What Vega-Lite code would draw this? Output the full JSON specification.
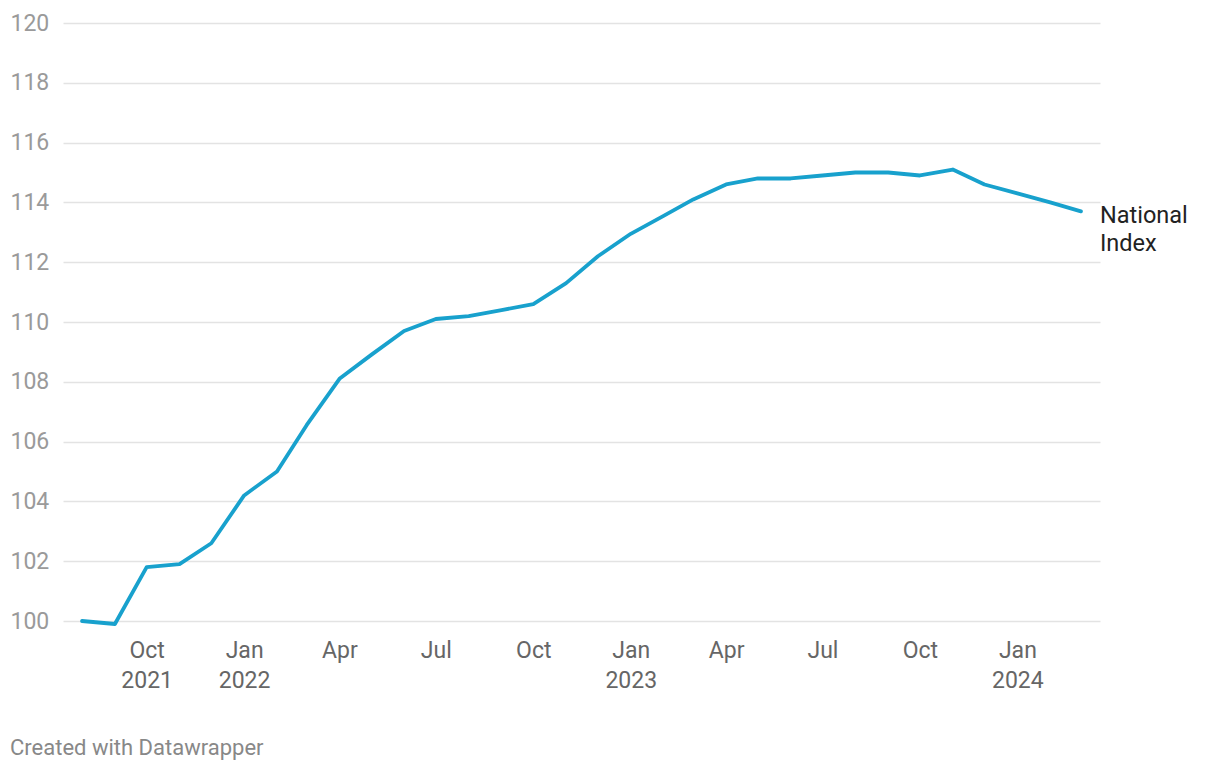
{
  "$schema": "https://vega.github.io/schema/vega-lite/v6.json",
  "width": 1037,
  "height": 598,
  "autosize": {"type": "none"},
  "padding": {"left": 63, "top": 23, "right": 120, "bottom": 149},
  "background": "#ffffff",
  "config": {
    "font": "Roboto",
    "view": {"stroke": null},
    "axis": {"domain": false, "ticks": false, "tickSize": 0, "title": null, "labelFont": "Roboto", "labelFontSize": 23}
  },
  "title": {
    "text": "Created with Datawrapper",
    "orient": "bottom",
    "anchor": "start",
    "frame": "group",
    "dx": -53,
    "offset": 46,
    "font": "Roboto",
    "fontSize": 22,
    "fontWeight": "normal",
    "color": "#888888"
  },
  "data": {
    "values": [
      {"date": "2021-08-01", "value": 100.0, "series": "National Index"},
      {"date": "2021-09-01", "value": 99.9, "series": "National Index"},
      {"date": "2021-10-01", "value": 101.8, "series": "National Index"},
      {"date": "2021-11-01", "value": 101.9, "series": "National Index"},
      {"date": "2021-12-01", "value": 102.6, "series": "National Index"},
      {"date": "2022-01-01", "value": 104.2, "series": "National Index"},
      {"date": "2022-02-01", "value": 105.0, "series": "National Index"},
      {"date": "2022-03-01", "value": 106.55, "series": "National Index"},
      {"date": "2022-04-01", "value": 108.1, "series": "National Index"},
      {"date": "2022-05-01", "value": 108.9, "series": "National Index"},
      {"date": "2022-06-01", "value": 109.7, "series": "National Index"},
      {"date": "2022-07-01", "value": 110.1, "series": "National Index"},
      {"date": "2022-08-01", "value": 110.2, "series": "National Index"},
      {"date": "2022-09-01", "value": 110.4, "series": "National Index"},
      {"date": "2022-10-01", "value": 110.6, "series": "National Index"},
      {"date": "2022-11-01", "value": 111.3, "series": "National Index"},
      {"date": "2022-12-01", "value": 112.2, "series": "National Index"},
      {"date": "2023-01-01", "value": 112.95, "series": "National Index"},
      {"date": "2023-02-01", "value": 113.55, "series": "National Index"},
      {"date": "2023-03-01", "value": 114.1, "series": "National Index"},
      {"date": "2023-04-01", "value": 114.6, "series": "National Index"},
      {"date": "2023-05-01", "value": 114.8, "series": "National Index"},
      {"date": "2023-06-01", "value": 114.8, "series": "National Index"},
      {"date": "2023-07-01", "value": 114.9, "series": "National Index"},
      {"date": "2023-08-01", "value": 115.0, "series": "National Index"},
      {"date": "2023-09-01", "value": 115.0, "series": "National Index"},
      {"date": "2023-10-01", "value": 114.9, "series": "National Index"},
      {"date": "2023-11-01", "value": 115.1, "series": "National Index"},
      {"date": "2023-12-01", "value": 114.6, "series": "National Index"},
      {"date": "2024-01-01", "value": 114.3, "series": "National Index"},
      {"date": "2024-02-01", "value": 114.0, "series": "National Index"},
      {"date": "2024-03-01", "value": 113.7, "series": "National Index"}
    ]
  },
  "encoding": {
    "x": {
      "field": "date",
      "type": "temporal",
      "scale": {
        "type": "utc",
        "domain": [
          {"year": 2021, "month": 7, "date": 14, "utc": true},
          {"year": 2024, "month": 3, "date": 19, "utc": true}
        ]
      },
      "axis": {
        "grid": false,
        "values": [
          {"year": 2021, "month": 10, "date": 1, "utc": true},
          {"year": 2022, "month": 1, "date": 1, "utc": true},
          {"year": 2022, "month": 4, "date": 1, "utc": true},
          {"year": 2022, "month": 7, "date": 1, "utc": true},
          {"year": 2022, "month": 10, "date": 1, "utc": true},
          {"year": 2023, "month": 1, "date": 1, "utc": true},
          {"year": 2023, "month": 4, "date": 1, "utc": true},
          {"year": 2023, "month": 7, "date": 1, "utc": true},
          {"year": 2023, "month": 10, "date": 1, "utc": true},
          {"year": 2024, "month": 1, "date": 1, "utc": true}
        ],
        "labelExpr": "(utcmonth(datum.value) == 0 || (utcyear(datum.value) == 2021)) ? [utcFormat(datum.value, '%b'), utcFormat(datum.value, '%Y')] : utcFormat(datum.value, '%b')",
        "labelColor": "#666666",
        "labelPadding": 18,
        "labelBaseline": "top",
        "labelLineHeight": 30,
        "labelFlush": false,
        "labelOverlap": false
      }
    },
    "y": {
      "field": "value",
      "type": "quantitative",
      "scale": {"domain": [100, 120], "zero": false, "nice": false},
      "axis": {
        "values": [100, 102, 104, 106, 108, 110, 112, 114, 116, 118, 120],
        "grid": true,
        "gridColor": "#e3e3e3",
        "gridWidth": 1.5,
        "labelAlign": "left",
        "labelBaseline": "middle",
        "labelPadding": 53,
        "labelColor": "#9a9a9a",
        "labelFontSize": 23
      }
    }
  },
  "layer": [
    {
      "mark": {"type": "line", "color": "#18a1cd", "strokeWidth": 3.8, "strokeJoin": "round", "strokeCap": "round"}
    },
    {
      "transform": [{"filter": "utcyear(datum.date) == 2024 && utcmonth(datum.date) == 2"}],
      "mark": {
        "type": "text",
        "align": "left",
        "baseline": "middle",
        "dx": 19,
        "dy": 5,
        "fontSize": 23.5,
        "color": "#222222",
        "lineBreak": " ",
        "lineHeight": 28
      },
      "encoding": {"text": {"field": "series"}}
    }
  ]
}
